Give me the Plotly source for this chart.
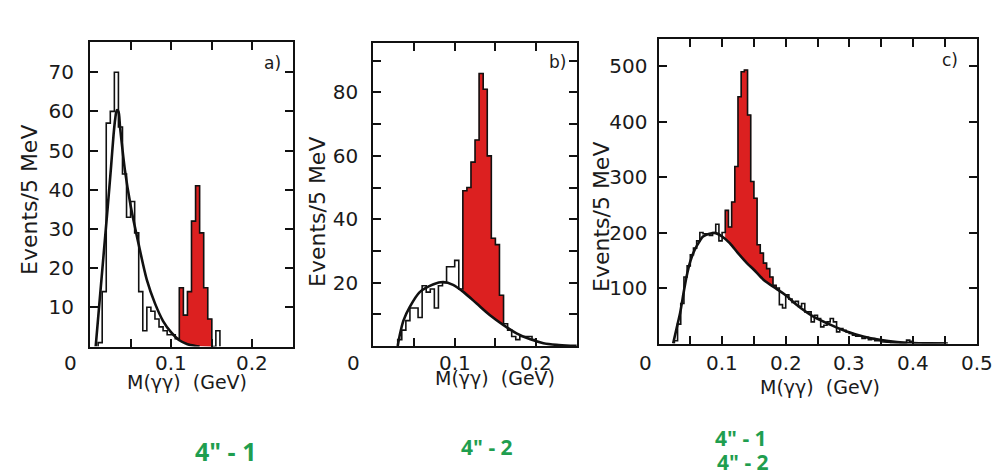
import numpy as np
import plotly.graph_objects as go

BIN = 0.005  # GeV, 5 MeV bins

# ---------------- panel a ----------------
a_first_edge = 0.010
a_counts = [1, 14, 57, 60, 70, 56, 44, 33, 37, 29, 14, 4, 10, 9, 7, 5, 4, 3, 3, 2,
            15, 8, 14, 32, 41, 29, 15, 7, 0, 4]
a_red_range = (0.110, 0.150)
a_curve_x = [0.007, 0.012, 0.017, 0.022, 0.026, 0.029, 0.031, 0.033, 0.035, 0.037, 0.043,
             0.050, 0.060, 0.070, 0.080, 0.090, 0.100, 0.110, 0.120, 0.130, 0.135]
a_curve_y = [0, 12, 24, 36, 46, 54, 58, 60.3, 60, 56, 45,
             36, 26, 17, 11, 6.5, 3.6, 1.6, 0.6, 0.15, 0]

# ---------------- panel b ----------------
b_first_edge = 0.030
b_counts = [2, 5, 8, 12, 12, 9, 19, 17, 18, 12, 19, 20, 25, 25, 27, 18,
            49, 50, 58, 65, 86, 81, 60, 34, 32, 16, 7, 5, 3, 2, 3, 3, 3, 2]
b_red_range = (0.110, 0.160)
b_curve_x = [0.030, 0.033, 0.037, 0.045, 0.057, 0.074, 0.086, 0.098, 0.111, 0.127, 0.143,
             0.160, 0.176, 0.193, 0.209, 0.225, 0.242, 0.250]
b_curve_y = [0, 4, 8, 12.4, 17, 19.5, 20.2, 19.3, 17, 13.4, 9.8,
             6.6, 4.0, 2.1, 0.9, 0.35, 0.1, 0.05]

# ---------------- panel c ----------------
c_first_edge = 0.025
c_counts = [5, 35, 72, 120, 140, 160, 172, 185, 200, 198, 198, 195, 200, 215, 185, 200,
            240, 210, 255, 319, 445, 490, 493, 412, 292, 262, 178, 163, 145, 135, 120, 105,
            100, 70, 64, 88, 80, 74, 76, 67, 72, 57, 57, 39, 51, 45, 30, 33, 39, 45,
            39, 21, 27, 24, 21, 18, 15, 13, 13, 9, 11, 7, 9, 5, 5, 3, 2, 2, 1, 2,
            1, 0, 1, 6, 4, 1, 2, 1, 0, 1, 0, 1, 1, 0, 1]
c_red_range = (0.105, 0.185)
c_curve_x = [0.023, 0.030, 0.034, 0.040, 0.044, 0.050, 0.057, 0.065, 0.070, 0.080, 0.090,
             0.100, 0.112, 0.125, 0.139, 0.150, 0.165, 0.186, 0.200, 0.217, 0.243, 0.270,
             0.296, 0.322, 0.348, 0.375, 0.400, 0.427, 0.455]
c_curve_y = [0, 35, 55, 95, 120, 148, 169, 185, 193, 198, 199,
             193, 181, 163, 145, 133, 115, 98, 87, 70, 49, 34,
             21.5, 12.5, 6.5, 2.5, 0.8, 0.2, 0]

# ---------------- ticks & texts ----------------
xa_ticks = [0.05, 0.1, 0.15, 0.2]
xa_labels = ["", "0.1", "", "0.2"]
xc_ticks = [0.05, 0.1, 0.15, 0.2, 0.25, 0.3, 0.35, 0.4, 0.45, 0.5]
xc_labels = ["", "0.1", "", "0.2", "", "0.3", "", "0.4", "", "0.5"]
ya_ticks = [10, 20, 30, 40, 50, 60, 70]
yb_ticks = [10, 20, 30, 40, 50, 60, 70, 80, 90]
yb_labels = ["", "20", "", "40", "", "60", "", "80", ""]
yc_ticks = [100, 200, 300, 400, 500]

panel_letters = ["a)", "b)", "c)"]
x_title = "M(\u03b3\u03b3)\u00a0\u00a0(GeV)"
y_title = "Events/5 MeV"
footnotes = ['4" - 1', '4" - 2', '4" - 1', '4" - 2']

RED = "#dc2020"
GREEN = "#1f9e4f"
FONT = "DejaVu Sans"
INK = "#1a1a1a"


def step_path(first_edge, counts):
    edges = first_edge + BIN * np.arange(len(counts) + 1)
    xs = np.concatenate([[edges[0]], np.repeat(edges, 2)[1:-1], [edges[-1]]])
    ys = np.concatenate([[0], np.repeat(counts, 2), [0]])
    return xs, ys


def red_polygon(first_edge, counts, rng, cx, cy):
    edges = first_edge + BIN * np.arange(len(counts) + 1)
    lo, hi = rng
    idx = [i for i in range(len(counts)) if edges[i] >= lo - 1e-9 and edges[i + 1] <= hi + 1e-9]
    top_x, top_y = [], []
    for i in idx:
        top_x += [edges[i], edges[i + 1]]
        top_y += [counts[i], counts[i]]
    bx = np.linspace(top_x[-1], top_x[0], 60)
    by = np.interp(bx, cx, cy)
    xs = list(top_x) + list(bx) + [top_x[0]]
    ys = list(top_y) + list(by) + [top_y[0]]
    return xs, ys


fig = go.Figure()

panels = [
    dict(first=a_first_edge, counts=a_counts, red=a_red_range, cx=a_curve_x, cy=a_curve_y,
         xa="x", ya="y"),
    dict(first=b_first_edge, counts=b_counts, red=b_red_range, cx=b_curve_x, cy=b_curve_y,
         xa="x2", ya="y2"),
    dict(first=c_first_edge, counts=c_counts, red=c_red_range, cx=c_curve_x, cy=c_curve_y,
         xa="x3", ya="y3"),
]

for p in panels:
    rx, ry = red_polygon(p["first"], p["counts"], p["red"], p["cx"], p["cy"])
    fig.add_trace(go.Scatter(x=rx, y=ry, mode="lines", fill="toself", fillcolor=RED,
                             line=dict(color="#b01515", width=0.5), xaxis=p["xa"], yaxis=p["ya"],
                             hoverinfo="skip", showlegend=False))
    hx, hy = step_path(p["first"], p["counts"])
    fig.add_trace(go.Scatter(x=hx, y=hy, mode="lines", line=dict(color="#111", width=1.6),
                             xaxis=p["xa"], yaxis=p["ya"], showlegend=False))
    fig.add_trace(go.Scatter(x=p["cx"], y=p["cy"], mode="lines",
                             line=dict(color="#111", width=2.6, shape="spline", smoothing=0.8),
                             xaxis=p["xa"], yaxis=p["ya"], showlegend=False))

tickfont = dict(family=FONT, size=20, color=INK)
common = dict(showline=True, linecolor="#111", linewidth=2, mirror="allticks", ticks="inside",
              ticklen=8, tickwidth=1.6, tickcolor="#111", showgrid=False, zeroline=False,
              tickfont=tickfont, fixedrange=True, automargin=False)

W, H = 996, 476
fig.update_layout(
    width=W, height=H, margin=dict(l=0, r=0, t=0, b=0, pad=0, autoexpand=False), autosize=False,
    paper_bgcolor="white", plot_bgcolor="white", showlegend=False,
    xaxis=dict(domain=[90 / W, 293 / W], range=[0, 0.25], tickvals=xa_ticks,
               showticklabels=False, anchor="y", **common),
    yaxis=dict(domain=[1 - 346.5 / H, 1 - 42 / H], range=[0, 77.7], tickvals=ya_ticks,
               anchor="x", ticklabelstandoff=10, **common),
    xaxis2=dict(domain=[373.3 / W, 576.8 / W], range=[0, 0.25], tickvals=xa_ticks,
                showticklabels=False, anchor="y2", **common),
    yaxis2=dict(domain=[1 - 346 / H, 1 - 43 / H], range=[0, 95.6], tickvals=yb_ticks,
                ticktext=yb_labels, anchor="x2", ticklabelstandoff=9, **common),
    xaxis3=dict(domain=[658.5 / W, 976.5 / W], range=[0, 0.5], tickvals=xc_ticks,
                showticklabels=False, anchor="y3", **common),
    yaxis3=dict(domain=[1 - 343.5 / H, 1 - 39 / H], range=[0, 549], tickvals=yc_ticks,
                anchor="x3", ticklabelstandoff=5, **common),
)


def px_ann(x, y, text, size, color=INK, angle=0, family=FONT, xref="paper"):
    fig.add_annotation(x=(x / W if xref == "paper" else x), y=1 - y / H, xref=xref, yref="paper",
                       text=text, showarrow=False, textangle=angle, xanchor="center",
                       yanchor="middle", font=dict(family=family, size=size, color=color))


# x tick labels, placed on each x axis' own scale
for xref, vals, labs in [("x", xa_ticks, xa_labels), ("x2", xa_ticks, xa_labels),
                         ("x3", xc_ticks, xc_labels)]:
    for v, t in zip(vals, labs):
        if t:
            px_ann(v, 363, t, 20, xref=xref)
# zero labels at lower-left corners
for x0, y0 in [(70, 363), (353, 363), (645, 363)]:
    px_ann(x0, y0, "0", 20)
# panel letters
for (x0, y0), t in zip([(272, 63), (557, 62), (950, 60)], panel_letters):
    px_ann(x0, y0, t, 17)
# y titles
for x0, y0 in [(29, 200), (317, 212), (602, 217)]:
    px_ann(x0, y0, y_title, 22, angle=-90)
# x titles
for x0, y0 in [(187, 382), (495, 378), (820, 387)]:
    px_ann(x0, y0, x_title, 19)
# handwritten green notes
GFONT = "Open Sans"
px_ann(225, 451, "<b>" + footnotes[0] + "</b>", 25, color=GREEN, family=GFONT)
px_ann(487, 447, "<b>" + footnotes[1] + "</b>", 21, color=GREEN, family=GFONT)
px_ann(741, 438, "<b>" + footnotes[2] + "</b>", 21, color=GREEN, family=GFONT)
px_ann(743, 462, "<b>" + footnotes[3] + "</b>", 21, color=GREEN, family=GFONT)

fig.write_html("out.html", config={"responsive": False})
